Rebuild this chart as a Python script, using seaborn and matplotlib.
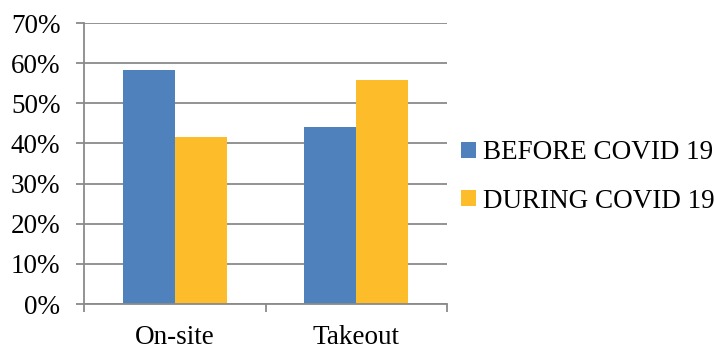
import matplotlib
matplotlib.use("Agg")
import matplotlib.pyplot as plt
import seaborn as sns
import pandas as pd
from matplotlib.ticker import PercentFormatter, FixedLocator

categories = ["On-site", "Takeout"]
before_covid = [58.3, 44.2]
during_covid = [41.7, 55.8]
series_names = ["BEFORE COVID 19", "DURING COVID 19"]
colors = ["#4F81BD", "#FDBD2A"]

df = pd.DataFrame({
    "category": categories * 2,
    "value": before_covid + during_covid,
    "series": [series_names[0]] * len(categories) + [series_names[1]] * len(categories),
})

sns.set_theme(style="white")
plt.rcParams["font.family"] = ["Liberation Serif", "DejaVu Serif"]
plt.rcParams["font.size"] = 19.5
plt.rcParams["text.color"] = "black"

fig = plt.figure(figsize=(7.14, 3.49), dpi=100)
ax = fig.add_axes([84 / 714, 1 - 304 / 349, (447 - 84) / 714, (304 - 23) / 349])

sns.barplot(data=df, x="category", y="value", hue="series", palette=colors,
            saturation=1, width=0.571, gap=0, ax=ax, zorder=3, legend=True,
            linewidth=0, edgecolor="none")

grid_c = "#8A8A8A"
ax.set_ylim(0, 70)
ax.set_xlim(-0.5, len(categories) - 0.5)
ax.set_yticks(range(0, 71, 10))
ax.yaxis.set_major_formatter(PercentFormatter(decimals=0))
ax.grid(axis="y", color=grid_c, linewidth=1.3, zorder=0)
ax.set_axisbelow(True)
ax.set_xlabel("")
ax.set_ylabel("")
for s in ["top", "right"]:
    ax.spines[s].set_visible(False)
for s in ["left", "bottom"]:
    ax.spines[s].set_color(grid_c)
    ax.spines[s].set_linewidth(1.3)
    ax.spines[s].set_zorder(4)

ax.tick_params(axis="y", which="major", left=True, length=6, width=1.3, color=grid_c,
               pad=11, labelsize=19.5, labelcolor="black")
ax.tick_params(axis="x", which="major", bottom=False, length=0, pad=15,
               labelsize=19.5, labelcolor="black")
ax.xaxis.set_minor_locator(FixedLocator([-0.5, 0.5, 1.5]))
ax.tick_params(axis="x", which="minor", bottom=True, length=6, width=1.3, color=grid_c)

handles, labels = ax.get_legend_handles_labels()
leg = ax.legend(handles, labels, loc="center left", bbox_to_anchor=(461 / 714, 1 - 177 / 349),
                bbox_transform=fig.transFigure, frameon=False, fontsize=19.5,
                handlelength=0.55, handleheight=0.55, handletextpad=0.25,
                labelspacing=0.86, borderaxespad=0, borderpad=0)
for t in leg.get_texts():
    t.set_color("black")

fig.savefig("out.png", dpi=100)
